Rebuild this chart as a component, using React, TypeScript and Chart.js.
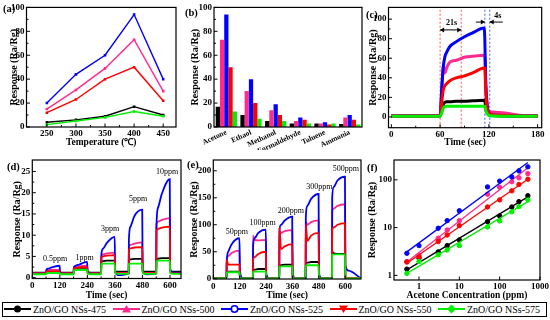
import React, { useEffect, useRef } from "react";
import { Chart, registerables } from "chart.js";

Chart.register(...registerables);

const SERIF = "'Liberation Serif', 'Times New Roman', Times, serif";
const TICK_SIZE = 9;
const X_TITLE = 9.5;
const Y_TITLE = 10;
const RESPONSE_TITLE = "Response (Ra/Rg)";

// ---------- series ----------
const seriesNames = ["ZnO/GO NSs-475", "ZnO/GO NSs-500", "ZnO/GO NSs-525", "ZnO/GO NSs-550", "ZnO/GO NSs-575"];
const seriesColors = ["#000000", "#ff2a8c", "#0000ff", "#ff0000", "#00ee00"];
const seriesPointStyles = ["circle", "triangle", "circle", "triangle", "rectRot"];
const seriesPointRotation = [0, 0, 0, 180, 0];
const seriesOpenMarker = [false, false, true, false, false];
const seriesDrawOrder = [4, 3, 2, 1, 0];

const responseTicks = [0, 20, 40, 60, 80, 100];

// ---------- (a) response vs temperature ----------
const aTemperatures = [250, 300, 350, 400, 450];
const aXTicks = [250, 300, 350, 400, 450];
const aResp475 = [4, 6, 9, 17, 10];
const aResp500 = [15, 31, 49, 73, 30];
const aResp525 = [20, 44, 60, 94, 40];
const aResp550 = [12, 23, 40, 50, 22];
const aResp575 = [2, 5, 8, 13, 9];

// ---------- (b) selectivity ----------
const bGases = ["Acetone", "Ethaol", "Methanol", "Formaldehyde", "Toluene", "Ammonia"];
const bResp475 = [17, 10, 5, 3, 3, 2.5];
const bResp500 = [73, 30, 14, 5, 3, 8];
const bResp525 = [94, 40, 19, 8, 4, 10];
const bResp550 = [50, 20, 10, 6, 2, 6];
const bResp575 = [13, 7, 5, 3, 3, 2];

// ---------- (c) response/recovery ----------
const cTime = [0, 58, 60, 62, 64, 66, 68, 72, 80, 90, 100, 114, 115, 116, 118, 120, 125, 140, 160, 180];
const cResp475 = [1, 1, 1, 9, 13, 15, 15.5, 15.5, 16, 16, 16.5, 17, 17, 10, 4, 2, 1.5, 1, 1, 1];
const cResp500 = [1, 1, 1, 25, 52, 45, 50, 56, 58, 61, 62, 63, 62, 35, 10, 6, 5, 4, 1.5, 1];
const cResp525 = [1, 1, 1, 30, 52, 62, 66, 72, 77, 82, 86, 91, 80, 40, 12, 4, 2, 1.5, 1, 1];
const cResp550 = [1, 1, 1, 15, 28, 32, 34, 37, 40, 42, 45, 50, 50, 30, 8, 4, 2, 1.5, 1, 1];
const cResp575 = [0.6, 0.6, 0.6, 4, 9, 11, 11, 11, 11, 11, 11, 11, 11, 7, 3, 1.5, 1, 0.8, 0.6, 0.6];
const cXTicks = [0, 60, 120, 180];
const cRedMarks = [60, 86];
const cBlueMarks = [115, 121];
const cNoteTexts = ["21s", "4s"];
const cNoteTimes = [74, 131];
const cNoteHeights = [96, 103];
const cArrowFrom = [60, 104, 137];
const cArrowTo = [86, 115, 121];
const cArrowHeights = [89, 97, 97];
const cArrowBoth = [true, false, false];

// ---------- (d) low concentrations ----------
const dTime = [0, 60, 61, 68, 85, 119, 121, 135, 180, 181, 188, 205, 239, 241, 255, 300, 301, 308, 325, 359, 361, 375, 420, 421, 428, 445, 479, 481, 495, 540, 541, 548, 565, 599, 601, 615, 648];
const dResp525 = [1, 1, 1.8, 2.1, 2.4, 2.8, 1.3, 1.0, 1.0, 2.4, 2.8, 3.1, 3.7, 1.3, 1.0, 1.0, 5.5, 6.8, 8.2, 9.6, 1.5, 0.6, 1.0, 9, 12, 14.5, 16, 1.5, 0.8, 1.0, 12, 16.5, 19.8, 23.2, 2, 1.2, 1.2];
const dResp500 = [1, 1, 1.7, 1.8, 1.8, 1.8, 1.1, 1, 1, 2.5, 2.6, 2.7, 2.8, 1.2, 1, 1, 5.0, 5.5, 5.7, 5.9, 1.3, 1.1, 1.1, 7.2, 7.7, 8.0, 8.3, 1.3, 1.1, 1.1, 12.5, 13.2, 13.6, 14.0, 1.5, 1.1, 1.1];
const dResp550 = [1, 1, 1.4, 1.5, 1.5, 1.5, 1.0, 1, 1, 2.2, 2.3, 2.4, 2.5, 1.1, 1, 1, 4.6, 5.0, 5.2, 5.3, 1.2, 1.0, 1.0, 6.5, 6.9, 7.1, 7.2, 1.2, 1.0, 1.0, 11, 11.5, 11.8, 12, 1.3, 1.0, 1.0];
const dResp475 = [1.2, 1.2, 1.3, 1.3, 1.3, 1.3, 1.2, 1.2, 1.2, 2.0, 2.0, 2.0, 2.0, 1.3, 1.2, 1.2, 3.8, 3.9, 4.0, 4.0, 1.5, 1.4, 1.4, 4.2, 4.3, 4.4, 4.4, 1.5, 1.4, 1.4, 4.4, 4.5, 4.6, 4.6, 1.5, 1.4, 1.4];
const dResp575 = [0.8, 0.8, 1.0, 1.1, 1.1, 1.1, 0.8, 0.8, 0.8, 1.7, 1.8, 1.8, 1.8, 0.9, 0.8, 0.8, 3.2, 3.3, 3.3, 3.3, 1.0, 0.9, 0.9, 3.2, 3.3, 3.3, 3.3, 1.0, 0.9, 0.9, 3.8, 4.0, 4.0, 4.0, 1.0, 0.9, 0.9];
const dYTicks = [0, 5, 10, 15, 20, 25];
const pulseTicks = [0, 120, 240, 360, 480, 600];
const dPulseLabels = ["0.5ppm", "1ppm", "3ppm", "5ppm", "10ppm"];
const dLabelTimes = [99, 228, 339, 461, 587];
const dLabelHeights = [4.3, 4.7, 11.4, 18.6, 24.9];

// ---------- (e) high concentrations ----------
const eTime = [0, 60, 61, 68, 85, 119, 121, 135, 180, 181, 188, 205, 239, 241, 255, 300, 301, 308, 325, 359, 361, 375, 420, 421, 428, 445, 479, 481, 495, 540, 541, 548, 565, 599, 601, 615, 672];
const eResp525 = [0.5, 0.5, 30, 50, 65, 75, 15, 0.5, 0.5, 60, 75, 85, 91, 10, 0.5, 0.5, 90, 100, 108, 115, 10, 0.5, 0.5, 115, 135, 148, 157, 10, 0.5, 0.5, 150, 170, 182, 189, 25, 15, 0.5];
const eResp500 = [0.5, 0.5, 35, 42, 48, 52, 3, 0.5, 0.5, 80, 72, 71, 72, 3, 0.5, 0.5, 88, 85, 88, 90, 3, 0.5, 0.5, 105, 100, 105, 108, 3, 0.5, 0.5, 125, 130, 135, 138, 3, 1, 0.5];
const eResp550 = [0.5, 0.5, 35, 26, 26, 26, 2, 0.5, 0.5, 35, 40, 46, 50, 2, 0.5, 0.5, 95, 55, 60, 64, 2, 0.5, 0.5, 100, 70, 80, 85, 2, 0.5, 0.5, 90, 95, 100, 103, 2, 1, 0.5];
const eResp475 = [0.5, 0.5, 13, 13, 13, 13, 1, 0.5, 0.5, 16, 17, 18, 18, 1, 0.5, 0.5, 24, 25, 26, 26, 1, 0.5, 0.5, 29, 30, 31, 31, 1, 0.5, 0.5, 50, 47, 46, 46, 1, 0.5, 0.5];
const eResp575 = [0.5, 0.5, 11, 12, 12, 12, 1, 0.5, 0.5, 12, 13, 13, 13, 1, 0.5, 0.5, 22, 23, 23, 23, 1, 0.5, 0.5, 24, 25, 25, 25, 1, 0.5, 0.5, 44, 45, 45, 45, 1, 0.5, 0.5];
const eYTicks = [0, 50, 100, 150, 200];
const ePulseLabels = ["50ppm", "100ppm", "200ppm", "300ppm", "500ppm"];
const eLabelTimes = [107, 224, 353, 482, 603];
const eLabelHeights = [86, 103, 125, 171, 204];

// ---------- (f) log-log calibration ----------
const fConc = [0.5, 1, 3, 5, 10, 50, 100, 200, 300, 500];
const fResp475 = [1.35, 2.3, 3.1, 4.2, 5.5, 13.3, 17.5, 27, 35, 46.5];
const fResp500 = [1.95, 2.6, 6, 8.9, 14, 50, 70, 91, 110, 135];
const fResp525 = [2.9, 4.2, 9.7, 14, 22.5, 71, 94, 115, 154, 187];
const fResp550 = [1.9, 2.4, 5.1, 7, 11, 27, 38, 59, 80, 103];
const fResp575 = [1.1, 1.95, 2.7, 3.4, 4.2, 10.3, 13.8, 21.5, 27.5, 38];
const fFitConc = [0.5, 500];
const fFit475 = [1.3, 44];
const fFit500 = [1.9, 178];
const fFit525 = [3.1, 230];
const fFit550 = [1.8, 103];
const fFit575 = [1.1, 35];
const fLogTicks = [1, 10, 100, 1000];

// ---------- helpers ----------
function makeAxis(type: string, min: number, max: number, tickValues: number[], title: string | null, titleSize: number, pad: number) {
  return {
    type,
    min,
    max,
    bounds: "data",
    grid: { display: false, drawTicks: false },
    border: { display: false },
    afterBuildTicks: (s: any) => {
      s.ticks = tickValues.map((v) => ({ value: v }));
    },
    ticks: {
      font: { family: SERIF, size: TICK_SIZE, weight: "bold" },
      color: "#000",
      padding: pad,
      autoSkip: false,
      maxRotation: 0,
      minRotation: 0,
      callback: (v: any) => String(v),
    },
    title: title
      ? { display: true, text: title, font: { family: SERIF, size: titleSize, weight: "bold" }, color: "#000", padding: 0 }
      : { display: false },
  };
}

function lineSeries(xs: number[], ys: number[], i: number, width: number, markerRadius: number) {
  return {
    type: "line",
    data: ys.map((v, j) => ({ x: xs[j], y: v })),
    borderColor: seriesColors[i],
    backgroundColor: seriesColors[i],
    borderWidth: width,
    pointStyle: "rect",
    pointRadius: markerRadius,
    pointBorderWidth: 0,
    order: seriesDrawOrder[i],
    cubicInterpolationMode: markerRadius > 0 ? "default" : "monotone",
    tension: 0,
  };
}

function markLine(t: number, y0: number, y1: number, color: string) {
  return {
    type: "line",
    data: [{ x: t, y: y0 }, { x: t, y: y1 }],
    borderColor: color,
    borderWidth: 1.2,
    borderDash: [2, 2],
    pointRadius: 0,
    order: 10,
  };
}

function framePlugin(opts: { xTicks?: boolean; minor?: boolean }) {
  return {
    id: "frame",
    afterDatasetsDraw(chart: any) {
      const { ctx, chartArea: a } = chart;
      ctx.save();
      ctx.strokeStyle = "#000";
      ctx.lineWidth = 1.2;
      ctx.strokeRect(a.left, a.top, a.right - a.left, a.bottom - a.top);
      ctx.lineWidth = 1;
      const mark = (scale: any, horiz: boolean) => {
        const px = scale.ticks.map((t: any) => scale.getPixelForValue(t.value));
        const draw = (p: number, len: number) => {
          ctx.beginPath();
          if (horiz) {
            ctx.moveTo(p, a.bottom);
            ctx.lineTo(p, a.bottom - len);
          } else {
            ctx.moveTo(a.left, p);
            ctx.lineTo(a.left + len, p);
          }
          ctx.stroke();
        };
        px.forEach((p: number) => draw(p, 3.5));
        if (opts.minor) for (let k = 0; k + 1 < px.length; k++) draw((px[k] + px[k + 1]) / 2, 2);
      };
      if (opts.xTicks !== false) mark(chart.scales.x, true);
      mark(chart.scales.y, false);
      ctx.restore();
    },
  };
}

function notesPlugin(
  texts: string[], tx: number[], ty: number[], size: number, bold: boolean,
  arrowFrom: number[] = [], arrowTo: number[] = [], arrowY: number[] = [], arrowBoth: boolean[] = []
) {
  return {
    id: "notes",
    afterDatasetsDraw(chart: any) {
      const { ctx } = chart;
      const xs = chart.scales.x, ys = chart.scales.y;
      ctx.save();
      ctx.fillStyle = "#000";
      ctx.strokeStyle = "#000";
      ctx.font = `${bold ? "bold " : ""}${size}px ${SERIF}`;
      ctx.textAlign = "center";
      ctx.textBaseline = "middle";
      texts.forEach((t, i) => ctx.fillText(t, xs.getPixelForValue(tx[i]), ys.getPixelForValue(ty[i])));
      const head = (x: number, y: number, dir: number) => {
        ctx.beginPath();
        ctx.moveTo(x, y);
        ctx.lineTo(x - dir * 4, y - 2.5);
        ctx.lineTo(x - dir * 4, y + 2.5);
        ctx.closePath();
        ctx.fill();
      };
      ctx.lineWidth = 1;
      arrowFrom.forEach((f, i) => {
        const x1 = xs.getPixelForValue(f), x2 = xs.getPixelForValue(arrowTo[i]), y = ys.getPixelForValue(arrowY[i]);
        ctx.beginPath();
        ctx.moveTo(x1, y);
        ctx.lineTo(x2, y);
        ctx.stroke();
        const dir = x2 > x1 ? 1 : -1;
        head(x2, y, dir);
        if (arrowBoth[i]) head(x1, y, -dir);
      });
      ctx.restore();
    },
  };
}

type Box = {
  left: number; top: number; width: number; height: number;
  plotL: number; plotT: number; plotR: number; plotB: number;
  yTitleX: number; xTitleY?: number;
};

function Panel({ box, build }: { box: Box; build: () => any }) {
  const ref = useRef<HTMLCanvasElement>(null);
  useEffect(() => {
    const cfg = build();
    const o = cfg.options;
    o.animation = false;
    o.responsive = false;
    o.maintainAspectRatio = false;
    o.devicePixelRatio = 1;
    o.layout = { padding: { left: 0, bottom: 0, top: box.plotT - box.top, right: box.left + box.width - box.plotR } };
    o.plugins = { legend: { display: false }, tooltip: { enabled: false }, title: { display: false } };
    const xs = o.scales.x, ys = o.scales.y;
    xs.afterFit = (s: any) => { s.height = box.top + box.height - box.plotB; };
    ys.afterFit = (s: any) => { s.width = box.plotL - box.left; };
    if (ys.title && ys.title.display) ys.title.padding = { top: box.yTitleX - box.left - (Y_TITLE * 1.2) / 2, bottom: 0 };
    if (xs.title && xs.title.display && box.xTitleY !== undefined)
      xs.title.padding = { top: 0, bottom: box.top + box.height - box.xTitleY - (X_TITLE * 1.2) / 2 };
    const chart = new Chart(ref.current as HTMLCanvasElement, cfg);
    return () => chart.destroy();
  }, []);
  return (
    <canvas
      ref={ref}
      width={box.width}
      height={box.height}
      style={{ position: "absolute", left: box.left, top: box.top, width: box.width, height: box.height }}
    />
  );
}

// ---------- chart builders ----------
const buildA = () => ({
  type: "line",
  data: { datasets: [aResp475, aResp500, aResp525, aResp550, aResp575].map((ys, i) => lineSeries(aTemperatures, ys, i, 1.4, 1.8)) },
  options: {
    scales: {
      x: makeAxis("linear", 215, 472, aXTicks, "Temperature (\u2103)", X_TITLE, 1),
      y: makeAxis("linear", 0, 100, responseTicks, RESPONSE_TITLE, Y_TITLE, 2),
    },
  },
  plugins: [framePlugin({ minor: true })],
});

const buildB = () => ({
  type: "bar",
  data: {
    labels: bGases,
    datasets: [bResp475, bResp500, bResp525, bResp550, bResp575].map((vals, i) => ({
      data: vals,
      backgroundColor: seriesColors[i],
      borderWidth: 0,
      barPercentage: 1,
      categoryPercentage: 0.86,
    })),
  },
  options: {
    scales: {
      x: {
        type: "category",
        grid: { display: false, drawTicks: false },
        border: { display: false },
        ticks: { font: { family: SERIF, size: 7.5, weight: "bold" }, color: "#000", padding: 1, autoSkip: false, minRotation: 25, maxRotation: 25 },
        title: { display: false },
      },
      y: makeAxis("linear", 0, 100, responseTicks, RESPONSE_TITLE, Y_TITLE, 2),
    },
  },
  plugins: [framePlugin({ xTicks: false, minor: true })],
});

const buildC = () => ({
  type: "line",
  data: {
    datasets: [
      ...[cResp475, cResp500, cResp525, cResp550, cResp575].map((ys, i) => lineSeries(cTime, ys, i, 3, 0)),
      ...cRedMarks.map((t) => markLine(t, -11, 112, "#ff7070")),
      ...cBlueMarks.map((t) => markLine(t, -11, 112, "#7070ff")),
    ],
  },
  options: {
    scales: {
      x: makeAxis("linear", -3.5, 185, cXTicks, "Time (sec)", X_TITLE, 2),
      y: makeAxis("linear", -11, 112, responseTicks, RESPONSE_TITLE, Y_TITLE, 2),
    },
  },
  plugins: [
    framePlugin({ minor: true }),
    notesPlugin(cNoteTexts, cNoteTimes, cNoteHeights, 8, true, cArrowFrom, cArrowTo, cArrowHeights, cArrowBoth),
  ],
});

const buildD = () => ({
  type: "line",
  data: { datasets: [dResp475, dResp500, dResp525, dResp550, dResp575].map((ys, i) => lineSeries(dTime, ys, i, 1.8, 0)) },
  options: {
    scales: {
      x: makeAxis("linear", 0, 648, pulseTicks, "Time (sec)", X_TITLE, 2),
      y: makeAxis("linear", -0.2, 27.7, dYTicks, RESPONSE_TITLE, Y_TITLE, 2),
    },
  },
  plugins: [framePlugin({ minor: true }), notesPlugin(dPulseLabels, dLabelTimes, dLabelHeights, 8, false)],
});

const buildE = () => ({
  type: "line",
  data: { datasets: [eResp475, eResp500, eResp525, eResp550, eResp575].map((ys, i) => lineSeries(eTime, ys, i, 1.8, 0)) },
  options: {
    scales: {
      x: makeAxis("linear", 0, 672, pulseTicks, "Time (sec)", X_TITLE, 2),
      y: makeAxis("linear", -0.5, 220, eYTicks, RESPONSE_TITLE, Y_TITLE, 2),
    },
  },
  plugins: [framePlugin({ minor: true }), notesPlugin(ePulseLabels, eLabelTimes, eLabelHeights, 8, false)],
});

const buildF = () => ({
  type: "scatter",
  data: {
    datasets: [
      ...[fResp475, fResp500, fResp525, fResp550, fResp575].map((ys, i) => ({
        type: "scatter",
        data: ys.map((v, j) => ({ x: fConc[j], y: v })),
        backgroundColor: seriesColors[i],
        borderColor: seriesColors[i],
        pointRadius: 2.2,
        pointStyle: "circle",
        order: seriesDrawOrder[i],
      })),
      ...[fFit475, fFit500, fFit525, fFit550, fFit575].map((ys, i) => ({
        type: "line",
        data: ys.map((v, j) => ({ x: fFitConc[j], y: v })),
        borderColor: seriesColors[i],
        borderWidth: 1.3,
        pointRadius: 0,
        order: seriesDrawOrder[i],
      })),
    ],
  },
  options: {
    scales: {
      x: makeAxis("logarithmic", 0.24, 1000, fLogTicks, "Acetone Concentration (ppm)", X_TITLE, 1),
      y: makeAxis("logarithmic", 0.8, 260, fLogTicks, RESPONSE_TITLE, Y_TITLE, 2),
    },
  },
  plugins: [framePlugin({ minor: false })],
});

// ---------- layout ----------
const boxA: Box = { left: 0, top: 0, width: 185, height: 150, plotL: 26.5, plotT: 7, plotR: 176, plotB: 127, yTitleX: 14, xTitleY: 143 };
const boxB: Box = { left: 185, top: 0, width: 180, height: 150, plotL: 214, plotT: 7, plotR: 362, plotB: 127, yTitleX: 195 };
const boxC: Box = { left: 365, top: 0, width: 185, height: 150, plotL: 388.5, plotT: 5, plotR: 541.7, plotB: 127.7, yTitleX: 373, xTitleY: 143 };
const boxD: Box = { left: 0, top: 150, width: 185, height: 152, plotL: 32.3, plotT: 160, plotR: 181, plotB: 278.5, yTitleX: 17, xTitleY: 295.5 };
const boxE: Box = { left: 185, top: 150, width: 180, height: 152, plotL: 213.3, plotT: 160, plotR: 361, plotB: 279, yTitleX: 194, xTitleY: 295.5 };
const boxF: Box = { left: 365, top: 150, width: 185, height: 152, plotL: 394, plotT: 160, plotR: 540, plotB: 280, yTitleX: 372.5, xTitleY: 295.5 };

const panelLabels = ["(a)", "(b)", "(c)", "(d)", "(e)", "(f)"];
const panelLabelX = [3, 185, 366, 7, 187, 367];
const panelLabelY = [2.5, 7, 8.5, 160.5, 158.5, 161.5];

function LegendIcon({ i }: { i: number }) {
  const c = seriesColors[i];
  const cx = 13.5, cy = 7;
  let marker: any;
  const style = seriesPointStyles[i];
  if (style === "circle") {
    marker = seriesOpenMarker[i]
      ? <circle cx={cx} cy={cy} r={3.2} fill="#fff" stroke={c} strokeWidth={1.6} />
      : <circle cx={cx} cy={cy} r={3.5} fill={c} />;
  } else if (style === "triangle") {
    marker = seriesPointRotation[i] === 180
      ? <polygon points={`${cx},${cy + 4} ${cx - 4.5},${cy - 3.5} ${cx + 4.5},${cy - 3.5}`} fill={c} />
      : <polygon points={`${cx},${cy - 4} ${cx - 4.5},${cy + 3.5} ${cx + 4.5},${cy + 3.5}`} fill={c} />;
  } else {
    marker = <polygon points={`${cx},${cy - 4.5} ${cx + 4.5},${cy} ${cx},${cy + 4.5} ${cx - 4.5},${cy}`} fill={c} />;
  }
  return (
    <svg width={27} height={14} style={{ display: "block", flex: "0 0 auto" }}>
      <line x1={0} y1={cy} x2={27} y2={cy} stroke={c} strokeWidth={2} />
      {marker}
    </svg>
  );
}

export default function App() {
  return (
    <div style={{ position: "fixed", left: 0, top: 0, width: 550, height: 320, background: "#fff", overflow: "hidden" }}>
      <Panel box={boxA} build={buildA} />
      <Panel box={boxB} build={buildB} />
      <Panel box={boxC} build={buildC} />
      <Panel box={boxD} build={buildD} />
      <Panel box={boxE} build={buildE} />
      <Panel box={boxF} build={buildF} />
      {panelLabels.map((t, i) => (
        <div
          key={t}
          style={{ position: "absolute", left: panelLabelX[i], top: panelLabelY[i], font: `bold 10.5px ${SERIF}`, lineHeight: "11px", color: "#000" }}
        >
          {t}
        </div>
      ))}
      <div
        style={{
          position: "absolute", left: 2, top: 301.5, width: 545, height: 15, border: "1px solid #000",
          boxSizing: "border-box", background: "#fff", display: "flex", alignItems: "center", paddingLeft: 1,
        }}
      >
        {seriesNames.map((n, i) => (
          <div key={n} style={{ width: 108.5, flex: "0 0 auto", display: "flex", alignItems: "center" }}>
            <LegendIcon i={i} />
            <span style={{ marginLeft: 2, font: `10px ${SERIF}`, whiteSpace: "nowrap", lineHeight: "13px", color: "#000" }}>{n}</span>
          </div>
        ))}
      </div>
    </div>
  );
}
